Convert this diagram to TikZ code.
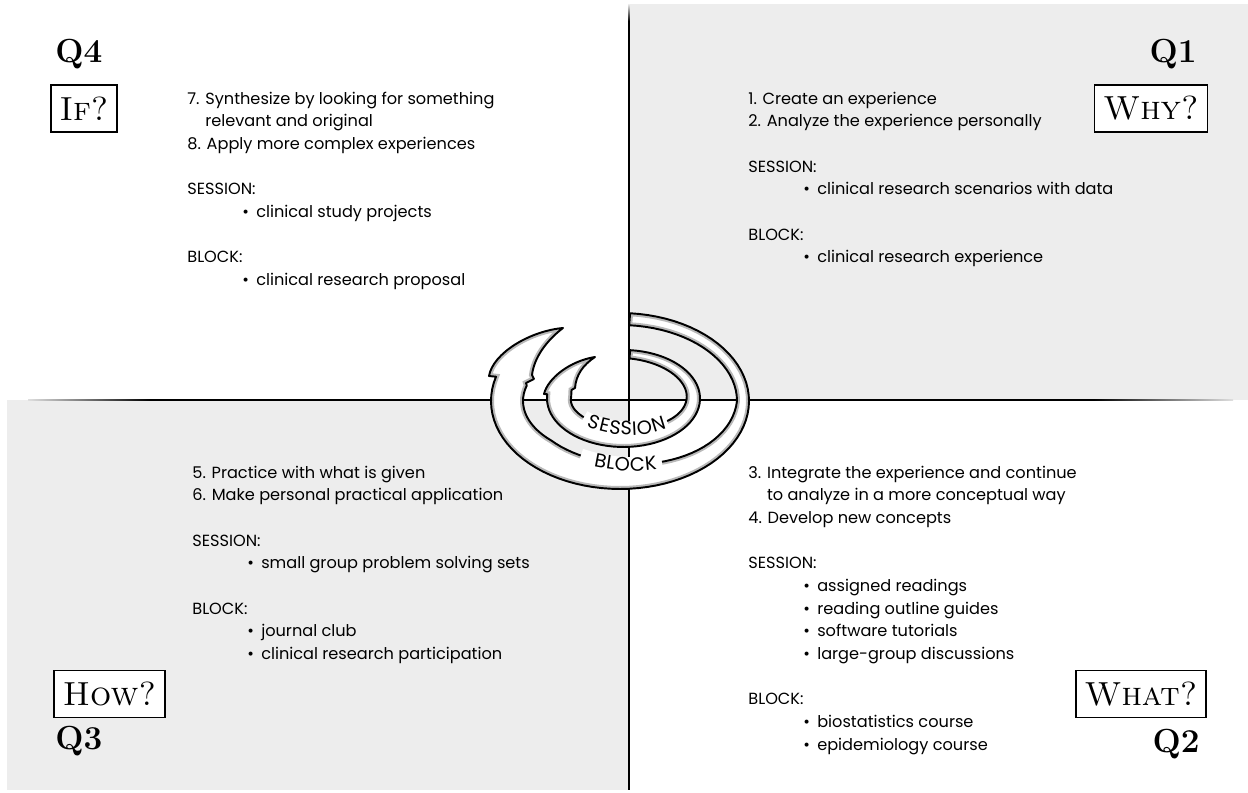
\documentclass[tikz,border=0pt]{standalone}
\usepackage{fontspec}
\newfontfamily\quadsans{Poppins}
\usetikzlibrary{decorations.text}

\definecolor{quadgray}{RGB}{237,237,237}

\newcommand\itm{\hspace*{1.1cm}\textbullet\hspace{0.45em}}

% outlines of the two spiral arrows (picture units are pixels)
\newcommand\blockarrow{%
  plot[domain=85.5:-196, samples=70, variable=\t] ({620+129*cos(\t)}, {392+88*sin(\t)})
  -- (489,417) .. controls (493,440) and (530,462) .. (563,465)
  .. controls (546,452) and (534,435) .. (532,418)
  -- (534,414) -- (526,410)
  -- plot[domain=-196:85.5, samples=70, variable=\t] ({620+(129-wo(\t))*cos(\t)}, {392+(88-wo(\t))*sin(\t)})
  -- cycle}
\newcommand\sessionarrow{%
  plot[domain=85:-185, samples=60, variable=\t] ({623.5+76.5*cos(\t)}, {394.5+48.5*sin(\t)})
  -- (544,399) .. controls (548,415) and (570,432) .. (595,436)
  .. controls (583,428) and (576,418) .. (575,405)
  -- (571.5,403)
  -- plot[domain=-185:85, samples=60, variable=\t] ({623.5+(76.5-wi(\t))*cos(\t)}, {394.5+(48.5-wi(\t))*sin(\t)})
  -- cycle}

\tikzset{
  declare function={wo(\x)=max(12,min(32,12-20*\x/135));
                    wi(\x)=min(24,8+16*(90-\x)/270);},
  quadtext/.style={anchor=north west, align=left, inner sep=0pt,
                   font=\quadsans\fontsize{9.2}{12.9}\selectfont,
                   execute at begin node={\rule{0pt}{9pt}}},
  qlabel/.style={inner sep=0pt, font=\fontsize{19}{20}\selectfont\bfseries},
  qbox/.style={draw, line width=0.9pt, fill=white, inner xsep=5pt,
               minimum height=0.94cm, font=\fontsize{19}{20}\selectfont\scshape},
  ringlabel/.style={decorate, decoration={text along path, text align=center,
                    raise=-3.8pt, text={|\quadsans\fontsize{11}{11}\selectfont|#1}}}
}

\begin{document}
\begin{tikzpicture}[x=0.02cm, y=0.02cm]
\useasboundingbox (0,0) rectangle (1248,793);

% quadrants
\fill[quadgray] (629,393) rectangle (1248,789);
\fill[quadgray] (7,3) rectangle (629,393);
\shade[left color=gray!25, right color=black] (28,392.3) rectangle (150,393.9);
\fill (150,392.3) rectangle (1094,393.9);
\shade[left color=black, right color=gray!25] (1094,392.3) rectangle (1233,393.9);
\fill (628.2,3) rectangle (629.8,772);
\shade[top color=gray!25, bottom color=black] (628.2,772) rectangle (629.8,788);

% spiral
\foreach \arr in {\blockarrow,\sessionarrow}{
  \fill[white] \arr;
  \begin{scope}
    \clip \arr;
    \draw[gray!55, line width=3.4pt] \arr;
  \end{scope}
  \draw[line width=1.1pt, line join=round] \arr;
}
\draw[white, line width=8pt] plot[domain=-136:-44, samples=30, variable=\t]
  ({623.5+(76.5-wi(\t))*cos(\t)}, {394.5+(48.5-wi(\t))*sin(\t)});
\path[ringlabel=SESSION] plot[domain=-160:-20, samples=60, variable=\t]
  ({623.5+(76.5-wi(\t))*cos(\t)}, {394.5+(48.5-wi(\t))*sin(\t)});
\draw[white, line width=8pt] plot[domain=-113:-67, samples=30, variable=\t]
  ({620+(129-wo(\t))*cos(\t)}, {392+(88-wo(\t))*sin(\t)});
\path[ringlabel=BLOCK] plot[domain=-150:-30, samples=60, variable=\t]
  ({620+(129-wo(\t))*cos(\t)}, {392+(88-wo(\t))*sin(\t)});

% Q4
\node[qlabel, anchor=base west] (q4) at (55,730) {Q4};
\node[qbox] (ifbox) at (84,684.5) {If?};
\node[quadtext] (q4text) at (187,701.4) {7. Synthesize by looking for something\\
  \phantom{7. }relevant and original\\
  8. Apply more complex experiences\\[12.9pt]
  SESSION:\\
  \itm clinical study projects\\[12.9pt]
  BLOCK:\\
  \itm clinical research proposal};

% Q1
\node[qlabel, anchor=base east] (q1) at (1197,730) {Q1};
\node[qbox] (whybox) at (1151,684.5) {Why?};
\node[quadtext] (q1text) at (748,701.4) {1. Create an experience\\
  2. Analyze the experience personally\\[12.9pt]
  SESSION:\\
  \itm clinical research scenarios with data\\[12.9pt]
  BLOCK:\\
  \itm clinical research experience};

% Q3
\node[qlabel, anchor=base west] (q3) at (55,43) {Q3};
\node[qbox] (howbox) at (109.5,99) {How?};
\node[quadtext] (q3text) at (192,327.4) {5. Practice with what is given\\
  6. Make personal practical application\\[12.9pt]
  SESSION:\\
  \itm small group problem solving sets\\[12.9pt]
  BLOCK:\\
  \itm journal club\\
  \itm clinical research participation};

% Q2
\node[qlabel, anchor=base east] (q2) at (1200,40) {Q2};
\node[qbox] (whatbox) at (1141,99) {What?};
\node[quadtext] (q2text) at (748,327.4) {3. Integrate the experience and continue\\
  \phantom{3. }to analyze in a more conceptual way\\
  4. Develop new concepts\\[12.9pt]
  SESSION:\\
  \itm assigned readings\\
  \itm reading outline guides\\
  \itm software tutorials\\
  \itm large-group discussions\\[12.9pt]
  BLOCK:\\
  \itm biostatistics course\\
  \itm epidemiology course};
\end{tikzpicture}
\end{document}
